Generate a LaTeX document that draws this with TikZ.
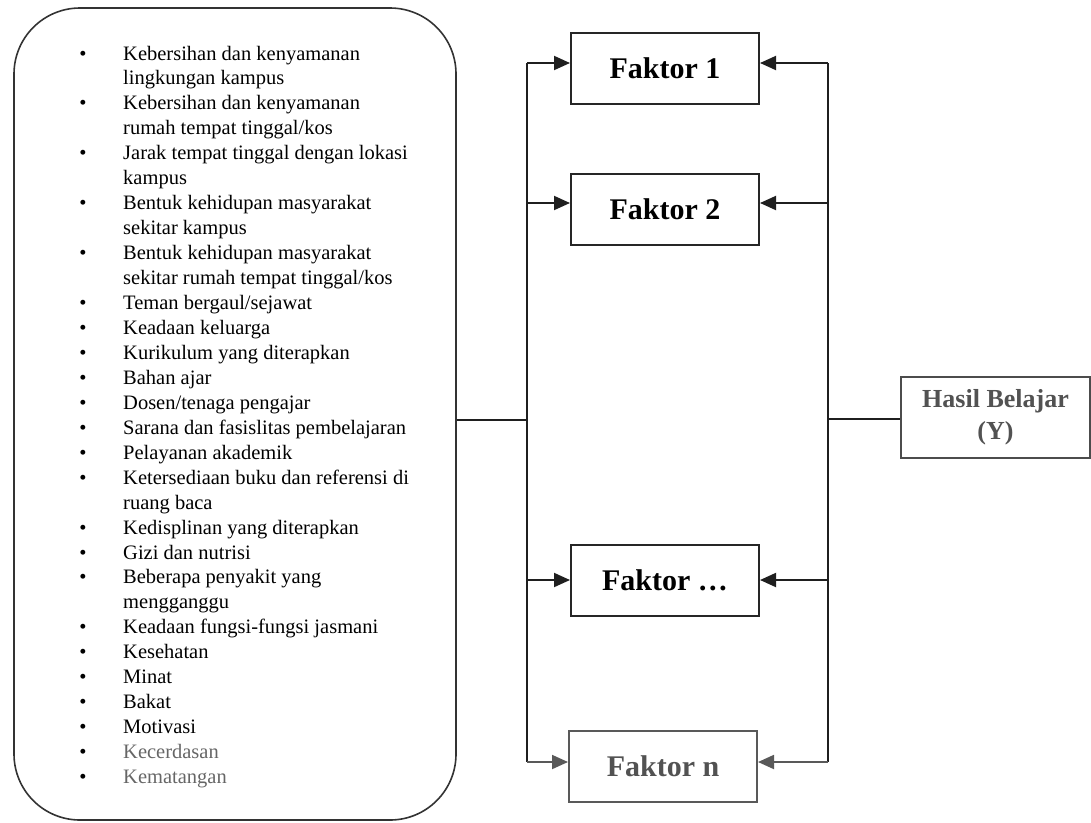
\documentclass[tikz,border=0pt]{standalone}
\usepackage{fontspec}
\setmainfont{Liberation Serif}
\usetikzlibrary{arrows.meta}
\begin{document}
\begin{tikzpicture}[x=1pt,y=-1pt,
  conn/.style={draw=black!88, line width=1.9pt},
  arr/.style={conn, -{Triangle[length=16pt,width=14pt]}},
  garr/.style={arr, draw=black!65, fill=black!65},
  listbox/.style={draw=black!80, line width=1.6pt, rounded corners=66pt, minimum width=442pt, minimum height=812pt, inner sep=0pt},
  fbox/.style={draw=black!85, line width=2pt, minimum width=188pt, minimum height=71pt, inner sep=0pt, font=\fontsize{30}{34}\selectfont\bfseries},
  gbox/.style={fbox, draw=black!65, text=black!68},
  hbox/.style={draw=black!70, line width=1.8pt, minimum width=189pt, minimum height=81pt, inner sep=0pt, align=center, text=black!68, font=\fontsize{26}{32}\selectfont\bfseries},
  itemtext/.style={anchor=base west, inner sep=0pt, font=\fontsize{20.5}{24}\selectfont},
  bul/.style={anchor=base, inner sep=0pt, font=\fontsize{20.5}{24}\selectfont},
  blk/.style={text=black},
  gry/.style={text=black!60}
]
\useasboundingbox (0,0) rectangle (1091,822);

% list box
\node[listbox] (list) at (235,414) {};

\foreach \c/\t [count=\i from 0] in {
  blk/{Kebersihan dan kenyamanan},
  blk/{lingkungan kampus},
  blk/{Kebersihan dan kenyamanan},
  blk/{rumah tempat tinggal/kos},
  blk/{Jarak tempat tinggal dengan lokasi},
  blk/{kampus},
  blk/{Bentuk kehidupan masyarakat},
  blk/{sekitar kampus},
  blk/{Bentuk kehidupan masyarakat},
  blk/{sekitar rumah tempat tinggal/kos},
  blk/{Teman bergaul/sejawat},
  blk/{Keadaan keluarga},
  blk/{Kurikulum yang diterapkan},
  blk/{Bahan ajar},
  blk/{Dosen/tenaga pengajar},
  blk/{Sarana dan fasislitas pembelajaran},
  blk/{Pelayanan akademik},
  blk/{Ketersediaan buku dan referensi di},
  blk/{ruang baca},
  blk/{Kedisplinan yang diterapkan},
  blk/{Gizi dan nutrisi},
  blk/{Beberapa penyakit yang},
  blk/{mengganggu},
  blk/{Keadaan fungsi-fungsi jasmani},
  blk/{Kesehatan},
  blk/{Minat},
  blk/{Bakat},
  blk/{Motivasi},
  gry/{Kecerdasan},
  gry/{Kematangan}}{
  \node[itemtext,\c] (t\i) at (123,{60+24.95*\i}) {\t};
}
\foreach \i in {0,2,4,6,8,10,11,12,13,14,15,16,17,19,20,21,23,24,25,26,27,28,29}{
  \node[bul] (b\i) at (83,{60+24.95*\i}) {•};
}

% factor boxes
\node[fbox] (f1) at (665,68.5) {Faktor 1};
\node[fbox] (f2) at (665,209.5) {Faktor 2};
\node[fbox] (f3) at (665,580) {Faktor \dots};
\node[gbox] (fn) at (663,766) {Faktor n};
\node[hbox] (hasil) at (995.5,417.5) {Hasil Belajar\\(Y)};

% junction coordinates
\coordinate (ltop) at (527,63);
\coordinate (lbot) at (527,762);
\coordinate (jl) at (527,420);
\coordinate (rtop) at (828,63);
\coordinate (rbot) at (828,762);
\coordinate (jr) at (828,419);
\coordinate (l2) at (527,203);
\coordinate (r2) at (828,203);
\coordinate (l3) at (527,580);
\coordinate (r3) at (828,580);

% trunks
\draw[conn] (ltop) -- (lbot);
\draw[conn] (rtop) -- (rbot);
\draw[conn] (list.east |- jl) -- (jl);
\draw[conn] (jr) -- (hasil.west |- jr);

% arrows
\draw[arr] (ltop) -- (f1.west |- ltop);
\draw[arr] (rtop) -- (f1.east |- rtop);
\draw[arr] (l2) -- (f2.west |- l2);
\draw[arr] (r2) -- (f2.east |- r2);
\draw[arr] (l3) -- (f3.west |- l3);
\draw[arr] (r3) -- (f3.east |- r3);
\draw[garr] (lbot) -- (fn.west |- lbot);
\draw[garr] (rbot) -- (fn.east |- rbot);
\end{tikzpicture}
\end{document}
